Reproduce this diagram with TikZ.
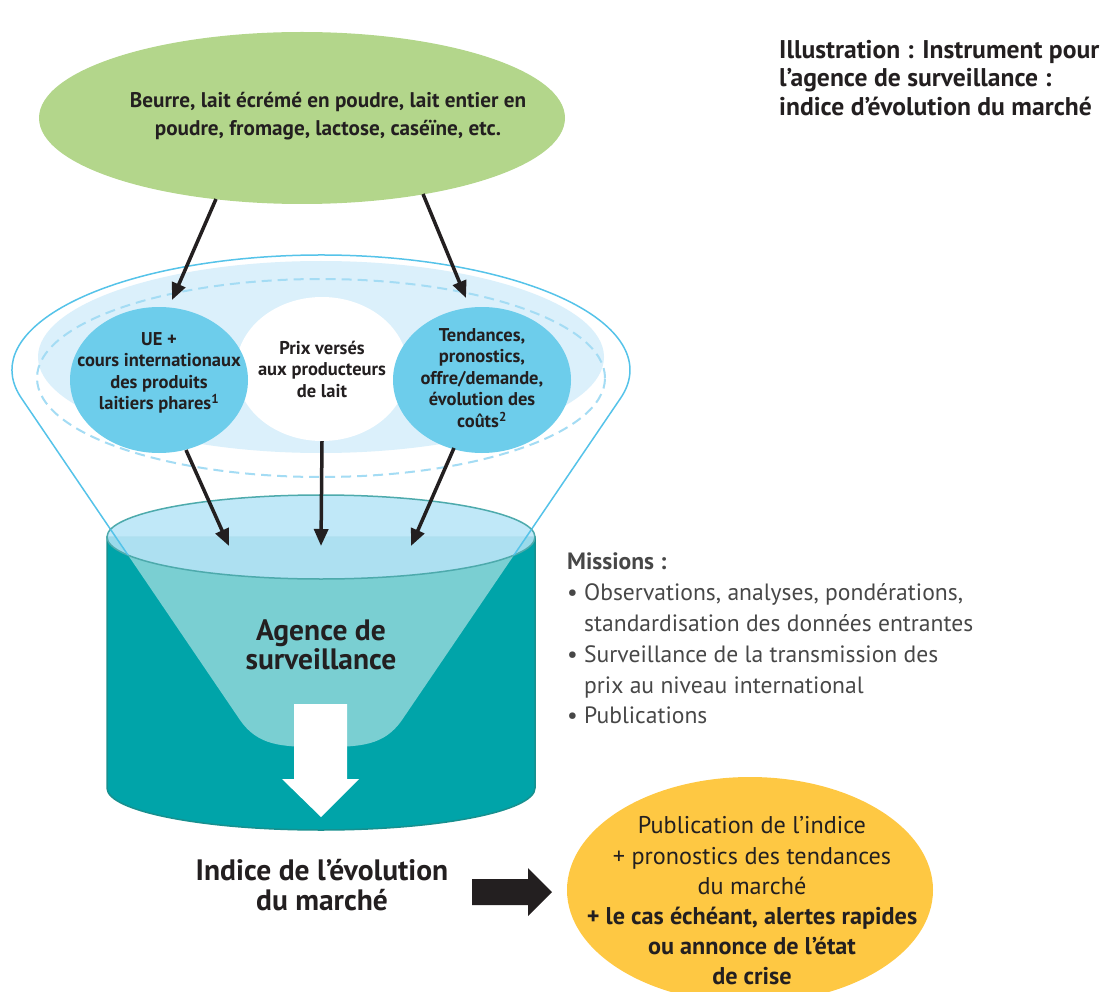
\documentclass[tikz,border=0pt]{standalone}
\usepackage{fontspec}
\setmainfont{PT Sans}
\usetikzlibrary{arrows.meta, shapes.geometric, calc, positioning}

\definecolor{leafgreen}{HTML}{B3D68B}
\definecolor{bandblue}{HTML}{DBF0FB}
\definecolor{dashblue}{HTML}{A4DCF4}
\definecolor{ballblue}{HTML}{6DCDEB}
\definecolor{rimblue}{HTML}{55C3E9}
\definecolor{tankteal}{HTML}{00A4A9}
\definecolor{tankedge}{HTML}{17908F}
\definecolor{lidblue}{HTML}{B6E4F7}
\definecolor{lidedge}{HTML}{4DAAAC}
\definecolor{sunyellow}{HTML}{FEC843}
\definecolor{ink}{HTML}{231F20}
\definecolor{missgrey}{HTML}{474747}

\begin{document}
\begin{tikzpicture}[x=1pt, y=1pt,
	ball/.style={ellipse, inner sep=0pt, minimum width=178pt, minimum height=146pt},
	balltext/.style={inner sep=0pt, align=center, text=ink, font=\fontsize{18.5}{21.5}\selectfont\bfseries},
	feed/.style={ink, line width=3.5pt, -{Triangle[length=17pt, width=14pt]}},
	blurb/.style={inner sep=0pt, align=center, text=ink}]

		\useasboundingbox (0,0) rectangle (1105,-992);
		\clip (0,0) rectangle (1105,-992);

		% Funnel
		\begin{scope}
			\path[draw=rimblue, line width=1.5pt, fill=white] (22,-399) arc[start angle=194.6, end angle=-14.6, x radius=309, y radius=115] -- (402,-720) .. controls (384,-746) and (360,-747) .. (321,-747) .. controls (282,-747) and (258,-746) .. (240,-720) -- cycle;
			\fill[bandblue] (321,-357) ellipse[x radius=283, y radius=96];
			\draw[dashblue, line width=2pt, dash pattern=on 10pt off 6pt] (321,-378) ellipse[x radius=284, y radius=99];
		\end{scope}

		% Sources
		\begin{scope}
			\node (prix) at (322,-369) [ball, fill=white, minimum width=172pt, minimum height=144pt, label={[balltext]center:Prix versés\\aux producteurs\\de lait}] {};
			\node (ue) at (159,-380) [ball, fill=ballblue, label={[balltext, yshift=7pt]center:UE +\\cours internationaux\\des produits\\laitiers phares\textsuperscript{1}}] {};
			\node (tend) at (482,-380) [ball, fill=ballblue, label={[balltext, yshift=2pt]center:Tendances,\\pronostics,\\offre/demande,\\évolution des\\coûts\textsuperscript{2}}] {};
		\end{scope}

		% Agence
		\begin{scope}
			\fill[tankteal, draw=tankedge, line width=1.5pt] (107,-537) -- (107,-788) arc[start angle=180, end angle=360, x radius=214, y radius=42] -- (535,-537) -- cycle;
			\begin{scope}
				\clip (107,-537) -- (107,-788) arc[start angle=180, end angle=360, x radius=214, y radius=42] -- (535,-537) arc[start angle=0, end angle=180, x radius=214, y radius=42];
				\fill[white, fill opacity=0.48] (22,-399) arc[start angle=194.6, end angle=-14.6, x radius=309, y radius=115] -- (402,-720) .. controls (384,-746) and (360,-747) .. (321,-747) .. controls (282,-747) and (258,-746) .. (240,-720) -- cycle;
			\end{scope}
			\filldraw[fill=lidblue, fill opacity=0.85, draw=lidedge, line width=1.5pt] (321,-537) ellipse[x radius=214, y radius=42];
			\begin{scope}
				\clip (321,-537) ellipse[x radius=214, y radius=42];
				\draw[rimblue, line width=1.5pt] (22,-399) -- (240,-720) (620,-399) -- (402,-720);
			\end{scope}
			\coordinate (bowl) at (321,-537);
			\fill[white] (294,-704) -- (347,-704) -- (347,-779) -- (359,-779) -- (321,-817) -- (282,-779) -- (294,-779) -- cycle;
			\node (agence) at (321,-645) [blurb, font=\fontsize{29.5}{28.5}\selectfont\bfseries] {Agence de\\surveillance};
		\end{scope}

		% Produits
		\node (beurre) at (302,-118) [ellipse, fill=leafgreen, minimum width=526pt, minimum height=172pt] {};
		\node (beurre_text) at (328,-116) [blurb, font=\fontsize{21.2}{28}\selectfont\bfseries] {Beurre, lait écrémé en poudre, lait entier en\\poudre, fromage, lactose, caséïne, etc.};

		% Arrows
		\draw[feed] ($(beurre.center)+(-86,-81)$) -- ($(ue.center)+(13,80)$);
		\draw[feed] ($(beurre.center)+(121,-76)$) -- ($(tend.center)+(-16,82)$);
		\draw[feed] ($(ue.center)+(27,-70)$) -- ($(bowl)+(-92,-9)$);
		\draw[feed] (prix.south) -- ($(bowl)+(0,-9)$);
		\draw[feed] ($(tend.center)+(-28,-68)$) -- ($(bowl)+(90,-9)$);

		% Texts
		\node (title) at (779,-40) [anchor=north west, inner sep=0pt, align=left, text=ink, font=\fontsize{25.6}{28.6}\selectfont\bfseries] {Illustration : Instrument pour\\l’agence de surveillance :\\indice d’évolution du marché};
		\node (missions) at (567,-553) [anchor=north west, inner sep=0pt, align=left, text=missgrey, font=\fontsize{23.6}{30.8}\selectfont] {\textbf{Missions :}\\• Observations, analyses, pondérations,\\\hspace*{17pt}standardisation des données entrantes\\• Surveillance de la transmission des\\\hspace*{17pt}prix au niveau international\\• Publications};
		\node (indice) at (322,-885) [blurb, font=\fontsize{29.5}{29.5}\selectfont\bfseries] {Indice de l’évolution\\du marché};

		% Publication
		\node (pub) at (750,-890) [ellipse, fill=sunyellow, minimum width=366pt, minimum height=226pt] {};
		\node (pub_text) at (752,-901) [blurb, font=\fontsize{24.2}{30.2}\selectfont] {Publication de l’indice\\+ pronostics des tendances\\du marché\\\textbf{+ le cas échéant, alertes rapides}\\\textbf{ou annonce de l’état}\\\textbf{de crise}};
		\fill[ink] (472,-879) -- (528,-879) -- (528,-868) -- (552,-892) -- (528,-916) -- (528,-905) -- (472,-905) -- cycle;

	\end{tikzpicture}
\end{document}
